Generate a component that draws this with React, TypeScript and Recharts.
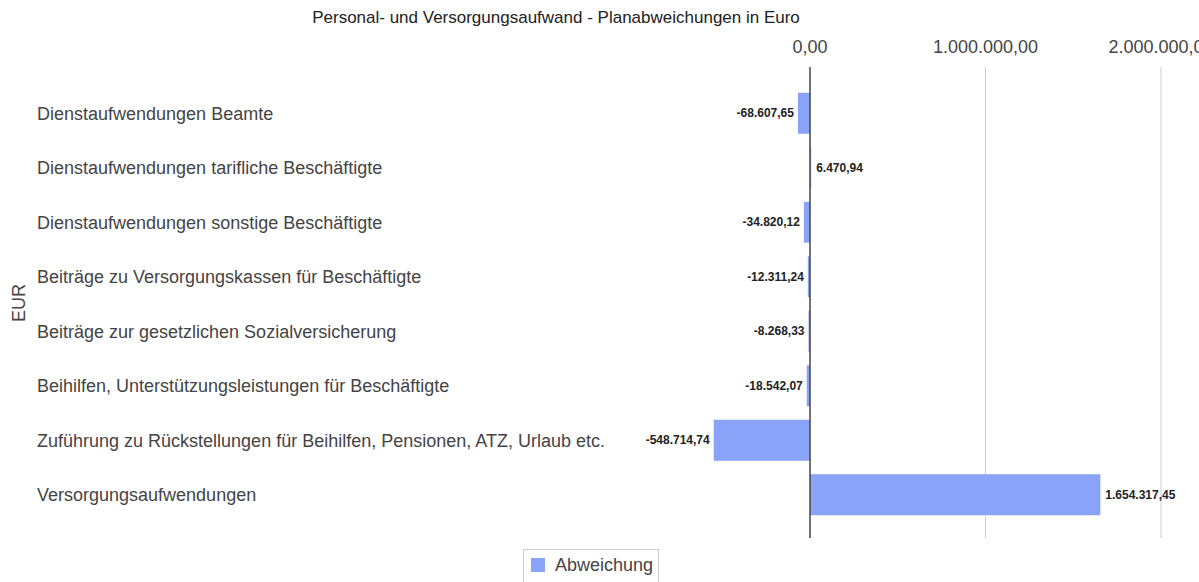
import {
  BarChart,
  Bar,
  XAxis,
  YAxis,
  CartesianGrid,
  ReferenceLine,
  LabelList,
  Legend,
} from "recharts";

const categories = [
  "Dienstaufwendungen Beamte",
  "Dienstaufwendungen tarifliche Beschäftigte",
  "Dienstaufwendungen sonstige Beschäftigte",
  "Beiträge zu Versorgungskassen für Beschäftigte",
  "Beiträge zur gesetzlichen Sozialversicherung",
  "Beihilfen, Unterstützungsleistungen für Beschäftigte",
  "Zuführung zu Rückstellungen für Beihilfen, Pensionen, ATZ, Urlaub etc.",
  "Versorgungsaufwendungen",
];
const abweichung = [
  -68607.65, 6470.94, -34820.12, -12311.24, -8268.33, -18542.07, -548714.74,
  1654317.45,
];
const xTicks = [0, 1000000, 2000000];
const xDomain = [-968700, 2216500];

const data = categories.map((name, i) => ({ name, value: abweichung[i] }));

const FONT = '"Liberation Sans", Arial, sans-serif';
const BAR = "#89a3f8";

// german number format: 1.654.317,45
function fmt(v: number) {
  const neg = v < 0;
  const [intPart, dec] = Math.abs(v).toFixed(2).split(".");
  const grouped = intPart.replace(/\B(?=(\d{3})+(?!\d))/g, ".");
  return (neg ? "-" : "") + grouped + "," + dec;
}

const CategoryTick = (props: any) => {
  const { y, payload } = props;
  return (
    <text x={37} y={y} dy="0.355em" textAnchor="start" fill="#444" fontSize={18} fontFamily={FONT}>
      {payload.value}
    </text>
  );
};

const ValueTick = (props: any) => {
  const { x, payload } = props;
  return (
    <text x={x} y={53} textAnchor="middle" fill="#444" fontSize={18} fontFamily={FONT}>
      {fmt(payload.value)}
    </text>
  );
};

const BarLabel = (props: any) => {
  const { x, y, width, height, value } = props;
  const left = Math.min(x, x + width);
  const right = Math.max(x, x + width);
  const neg = value < 0;
  return (
    <text
      x={neg ? left - 4 : right + 5}
      y={y + height / 2}
      dy="0.35em"
      textAnchor={neg ? "end" : "start"}
      fill="#222"
      fontSize={12}
      fontWeight="bold"
      fontFamily={FONT}
    >
      {fmt(value)}
    </text>
  );
};

const LegendBox = () => (
  <div
    style={{
      border: "1px solid #ccc",
      width: 136,
      height: 34,
      display: "flex",
      alignItems: "center",
      fontFamily: FONT,
      fontSize: 18,
      color: "#444",
      boxSizing: "border-box",
      paddingLeft: 7,
      paddingBottom: 2,
      whiteSpace: "nowrap",
    }}
  >
    <span style={{ width: 14, height: 14, background: BAR, display: "inline-block", marginRight: 10, flexShrink: 0 }} />
    Abweichung
  </div>
);

// grid lines only at the positive ticks (zero gets its own darker line)
const gridX = ({ xAxis, offset }: any) => {
  const s = xAxis && xAxis.scale;
  return xTicks.slice(1).map((t) => {
    if (typeof s === "function") return s(t);
    if (s && typeof s.map === "function") return s.map(t);
    return offset.left + ((t - xDomain[0]) / (xDomain[1] - xDomain[0])) * offset.width;
  });
};

export default function App() {
  return (
    <div style={{ position: "absolute", left: 0, top: 0, width: 1199, height: 582, overflow: "hidden", background: "#fff" }}>
      <div
        style={{
          position: "absolute",
          left: 256,
          top: 8,
          width: 600,
          textAlign: "center",
          fontFamily: FONT,
          fontSize: 17,
          lineHeight: "20px",
          color: "#222",
        }}
      >
        Personal- und Versorgungsaufwand - Planabweichungen in Euro
      </div>
      <div
        style={{
          position: "absolute",
          left: 19,
          top: 303,
          transform: "translate(-50%, -50%) rotate(-90deg)",
          fontFamily: FONT,
          fontSize: 18,
          color: "#444",
        }}
      >
        EUR
      </div>
      <BarChart
        width={1199}
        height={582}
        data={data}
        layout="vertical"
        margin={{ top: 0, right: 0, bottom: 44, left: 0 }}
        barCategoryGap="12.4%"
      >
        <CartesianGrid horizontal={false} stroke="#ccc" verticalCoordinatesGenerator={gridX} />
        <XAxis
          type="number"
          orientation="top"
          height={67}
          domain={xDomain}
          allowDataOverflow
          ticks={xTicks}
          axisLine={false}
          tickLine={false}
          tick={<ValueTick />}
        />
        <YAxis
          type="category"
          dataKey="name"
          width={640}
          axisLine={false}
          tickLine={false}
          padding={{ top: 19, bottom: 16 }}
          tick={<CategoryTick />}
          interval={0}
        />
        <ReferenceLine x={0} stroke="#444" strokeWidth={1.5} />
        <Legend
          layout="horizontal"
          verticalAlign="middle"
          align="center"
          wrapperStyle={{ left: 523, top: 549, width: "auto" }}
          content={<LegendBox />}
        />
        <Bar dataKey="value" name="Abweichung" fill={BAR} isAnimationActive={false}>
          <LabelList dataKey="value" content={<BarLabel />} />
        </Bar>
      </BarChart>
    </div>
  );
}
